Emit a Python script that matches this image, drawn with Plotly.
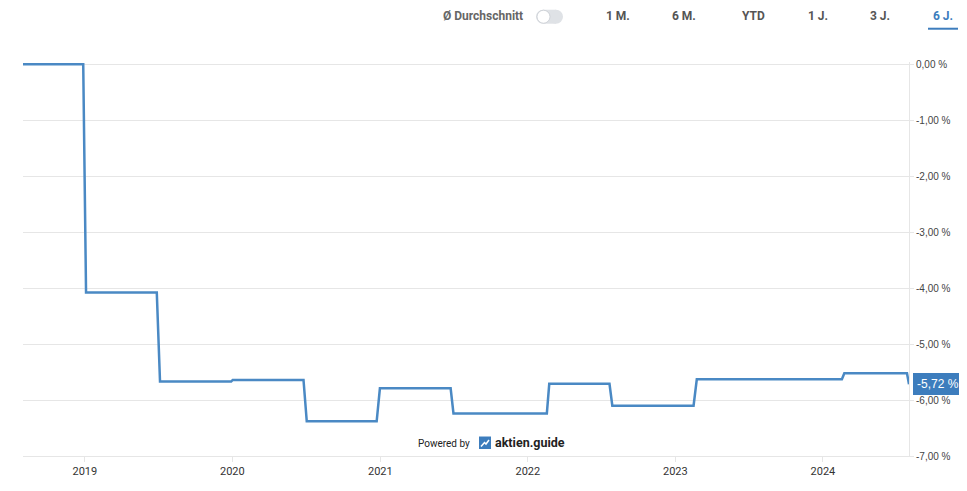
import plotly.graph_objects as go

# ---- data ----
dates = ["2018-08-01", "2018-12-28", "2019-01-04", "2019-06-28", "2019-07-06",
         "2019-12-29", "2020-01-02", "2020-06-25", "2020-07-03", "2020-12-23",
         "2020-12-31", "2021-06-24", "2021-07-01", "2022-02-17", "2022-02-23",
         "2022-07-22", "2022-07-29", "2023-02-15", "2023-02-23", "2024-02-17",
         "2024-02-23", "2024-07-27", "2024-08-01"]
values = [0.00, 0.00, -4.08, -4.08, -5.67, -5.67, -5.64, -5.64, -6.38, -6.38,
          -5.79, -5.79, -6.24, -6.24, -5.71, -5.71, -6.10, -6.10, -5.63, -5.63,
          -5.52, -5.52, -5.72]
last_label = "-5,72 %"

y_tickvals = [0, -1, -2, -3, -4, -5, -6, -7]
y_ticktext = ["0,00 %", "-1,00 %", "-2,00 %", "-3,00 %", "-4,00 %", "-5,00 %", "-6,00 %", "-7,00 %"]
x_tickvals = ["2019-01-01", "2020-01-01", "2021-01-01", "2022-01-01", "2023-01-01", "2024-01-01"]
x_ticktext = ["2019", "2020", "2021", "2022", "2023", "2024"]
x_extra_tick = "2025"

periods = ["1 M.", "6 M.", "YTD", "1 J.", "3 J.", "6 J."]
period_px = [618, 684, 753, 818, 880, 943]
active_period = "6 J."

# ---- geometry helpers (reference-window pixel coords) ----
W, H = 967, 491
OFF = 8  # page body margin
L, R = 23, 909
TOP, BOT = 61.8, 456
FIG_W, FIG_H = W - OFF, H - 2 * OFF

def px(x):
    return (x - L) / (R - L)

def py(y):
    return (BOT - y) / (BOT - TOP)

LINE = "#4a89c4"
BLUE = "#3d7dbd"
LAB = "Arial, Liberation Sans, sans-serif"

fig = go.Figure()
fig.add_trace(go.Scatter(x=dates, y=values, mode="lines",
                         line=dict(color=LINE, width=2.5), hoverinfo="skip",
                         showlegend=False))

fig.update_layout(
    width=FIG_W, height=FIG_H,
    margin=dict(l=L - OFF, r=W - R, t=TOP - OFF, b=FIG_H + OFF - BOT, pad=0,
                autoexpand=False),
    paper_bgcolor="white", plot_bgcolor="white",
    font=dict(family="Roboto, Arial, sans-serif", size=11, color="#333"),
    showlegend=False,
    xaxis=dict(range=["2018-08-01", "2024-08-01"], tickvals=x_tickvals,
               ticktext=x_ticktext, showgrid=False, showline=True,
               linecolor="#e6e6e6", linewidth=1, ticks="outside", ticklen=5,
               tickcolor="#e6e6e6", tickfont=dict(size=11, color="#333"),
               zeroline=False, fixedrange=True, automargin=False),
    yaxis=dict(range=[-7.0, 0.04], side="right", tickvals=y_tickvals,
               ticktext=y_ticktext, showgrid=True, gridcolor="#e6e6e6",
               gridwidth=1, showline=True, linecolor="#e6e6e6", linewidth=1,
               ticks="outside", ticklen=4, tickcolor="#e6e6e6",
               tickfont=dict(family=LAB, size=10, color="#444"),
               zeroline=False, fixedrange=True, automargin=False),
)

ann = []
shapes = []

# extra x tick label beyond plot (2025), positioned one year step past 2024
ann.append(dict(x=px(971), xref="paper", y=py(474), yref="paper",
                text=x_extra_tick, showarrow=False, xanchor="center",
                yanchor="middle", font=dict(size=11, color="#333")))

# last value label
ann.append(dict(x=1, xref="paper", y=values[-1], yref="y", xshift=4,
                text=last_label, showarrow=False, xanchor="left",
                yanchor="middle", bgcolor=BLUE, bordercolor=BLUE,
                borderpad=3, font=dict(family=LAB, size=12, color="white")))

# header: average toggle
ann.append(dict(x=px(525), xref="paper", y=py(16), yref="paper",
                text="Ø Durchschnitt", showarrow=False, xanchor="right",
                yanchor="middle", font=dict(size=12, color="#666", weight=700)))
shapes.append(dict(type="rect", xref="paper", yref="paper",
                   x0=px(543), x1=px(556), y0=py(23.5), y1=py(9.5),
                   fillcolor="#dfe2e6", line=dict(width=0), layer="above"))
shapes.append(dict(type="circle", xref="paper", yref="paper",
                   x0=px(536), x1=px(550), y0=py(23.5), y1=py(9.5),
                   fillcolor="#dfe2e6", line=dict(width=0), layer="above"))
shapes.append(dict(type="circle", xref="paper", yref="paper",
                   x0=px(549), x1=px(563), y0=py(23.5), y1=py(9.5),
                   fillcolor="#dfe2e6", line=dict(width=0), layer="above"))
shapes.append(dict(type="circle", xref="paper", yref="paper",
                   x0=px(537), x1=px(550), y0=py(23), y1=py(10),
                   fillcolor="white", line=dict(width=0.8, color="#c8ccd2"),
                   layer="above"))

for p, xpx in zip(periods, period_px):
    col = BLUE if p == active_period else "#555"
    ann.append(dict(x=px(xpx), xref="paper", y=py(16), yref="paper", text=p,
                    showarrow=False, xanchor="center", yanchor="middle",
                    font=dict(size=12, color=col, weight=700)))
    if p == active_period:
        shapes.append(dict(type="line", xref="paper", yref="paper",
                           x0=px(xpx - 15), x1=px(xpx + 15), y0=py(28.5),
                           y1=py(28.5), line=dict(color=BLUE, width=2)))

# powered by
ann.append(dict(x=px(472), xref="paper", y=py(443), yref="paper",
                text="Powered by", showarrow=False, xanchor="right",
                yanchor="middle", font=dict(size=10, color="#222")))
shapes.append(dict(type="rect", xref="paper", yref="paper",
                   x0=px(479), x1=px(491), y0=py(449), y1=py(436.5),
                   fillcolor=BLUE, line=dict(width=0), layer="above"))
shapes.append(dict(type="path", xref="paper", yref="paper",
                   path=f"M {px(481)},{py(446.5)} L {px(484.5)},{py(442.5)} "
                        f"L {px(486)},{py(444)} L {px(489)},{py(440)}",
                   line=dict(color="white", width=1.5), layer="above"))
ann.append(dict(x=px(493), xref="paper", y=py(442.5), yref="paper",
                text="aktien.guide", showarrow=False, xanchor="left",
                yanchor="middle", font=dict(size=12.5, color="#222", weight=700)))

fig.update_layout(annotations=ann, shapes=shapes)
fig.write_html("out.html")
